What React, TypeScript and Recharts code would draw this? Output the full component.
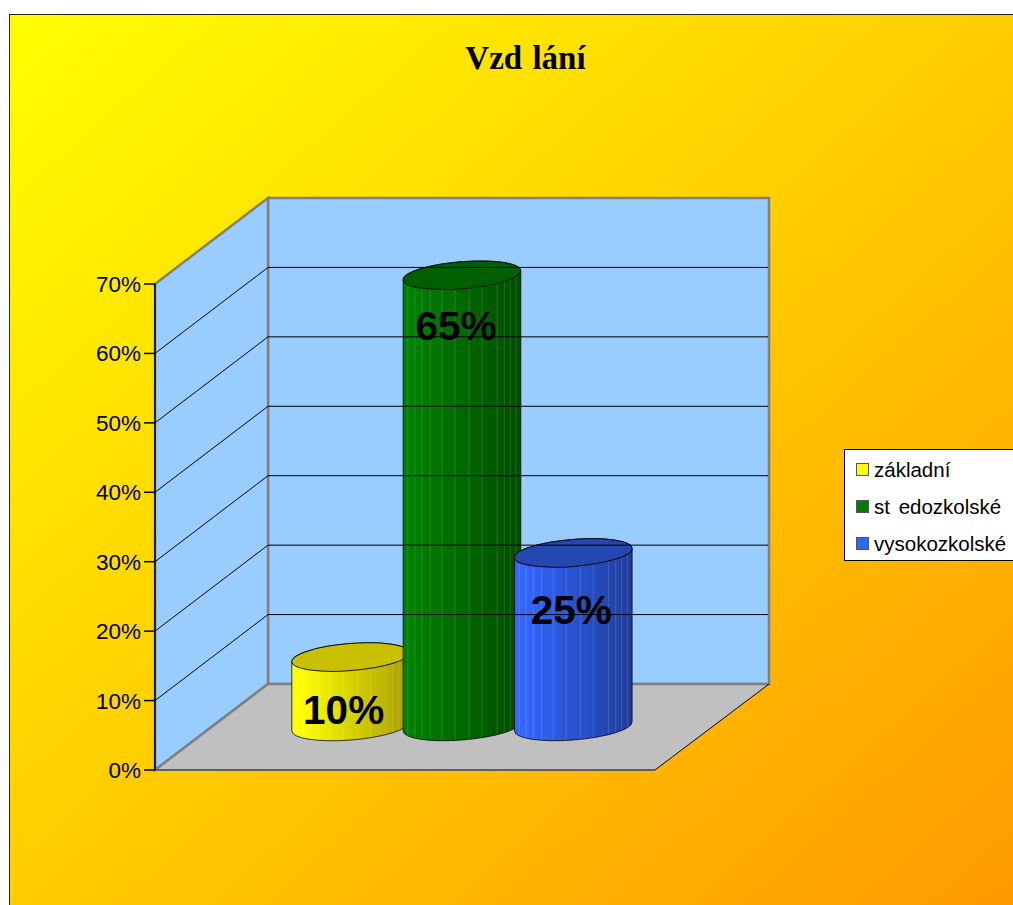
/**
 * Education chart, 3D-looking cylinders drawn on a flat Recharts BarChart.
 */
import { BarChart, Bar, XAxis, YAxis, ReferenceArea, ReferenceLine, Legend, LabelList } from "recharts";

const CATEGORIES = ["základní", "st edozkolské", "vysokozkolské"];
const SHARES = [0.1, 0.65, 0.25];
const Y_TICKS = [0, 0.1, 0.2, 0.3, 0.4, 0.5, 0.6, 0.7];
const GRID_TICKS = [0.1, 0.2, 0.3, 0.4, 0.5, 0.6];

const SWATCHES = ["#ffff00", "#008000", "#3366ff"];
const BODY_LEFT = ["#ffff00", "#008000", "#3366ff"];
const BODY_RIGHT = ["#a89e00", "#004d00", "#1f3d99"];
const CAP = ["#c8c000", "#006000", "#2448b0"];

const data = CATEGORIES.map((name, i) => ({ name, share: SHARES[i] }));

// x axis padding squeezes the bands together, the area shape has to undo it
const PAD_LEFT = 84;
const PAD_RIGHT = 82;
// the box: back wall sits this far from the front axis plane
const WALL_DX = 113;
const WALL_DY = -86;
// cylinders stand half way into the box
const BAR_DX = 56;
const BAR_DY = -43.5;
const RX = 59;
const RY = 13.5;
const TILT = (4.6 * Math.PI) / 180;
const EDGE_X = Math.sqrt(RX * RX * Math.cos(TILT) ** 2 + RY * RY * Math.sin(TILT) ** 2);
const EDGE_Y = ((RX * RX - RY * RY) * Math.sin(TILT) * Math.cos(TILT)) / EDGE_X;
const STRIPES = [0.04, 0.1, 0.16, 0.23, 0.33, 0.44, 0.56, 0.67, 0.8, 0.86, 0.91, 0.96];
const LABEL_NUDGE = [
  { dx: -7, dy: 53 },
  { dx: -6, dy: 51 },
  { dx: -2, dy: 57 },
];

function Cylinder(props: any) {
  const { x, y, width, height, index } = props;
  const cx = x + width / 2 + BAR_DX;
  const top = y + BAR_DY;
  const bottom = y + height + BAR_DY;
  const tilt = -4.6;
  const arc = `A${RX} ${RY} ${tilt}`;
  const body =
    `M${cx - EDGE_X} ${top + EDGE_Y} L${cx - EDGE_X} ${bottom + EDGE_Y} ` +
    `${arc} 0 0 ${cx + EDGE_X} ${bottom - EDGE_Y} L${cx + EDGE_X} ${top - EDGE_Y} ` +
    `${arc} 0 0 ${cx - EDGE_X} ${top + EDGE_Y}Z`;
  return (
    <g>
      <defs>
        <linearGradient id={`body-${index}`} x1="0" y1="0" x2="1" y2="0">
          <stop offset="0.08" stopColor={BODY_LEFT[index]} />
          <stop offset="1" stopColor={BODY_RIGHT[index]} />
        </linearGradient>
        <clipPath id={`clip-${index}`}>
          <path d={body} />
        </clipPath>
      </defs>
      <path d={body} fill={`url(#body-${index})`} />
      <g clipPath={`url(#clip-${index})`}>
        {STRIPES.map((s) => (
          <line
            key={s}
            x1={cx - EDGE_X + s * 2 * EDGE_X}
            x2={cx - EDGE_X + s * 2 * EDGE_X}
            y1={top - 20}
            y2={bottom + 20}
            stroke="#ffffff"
            strokeOpacity={0.14}
          />
        ))}
      </g>
      <path d={body} fill="none" stroke="#000" strokeOpacity={0.75} />
      <ellipse
        cx={cx}
        cy={top}
        rx={RX}
        ry={RY}
        transform={`rotate(${tilt} ${cx} ${top})`}
        fill={CAP[index]}
        stroke="#000"
        strokeOpacity={0.85}
      />
    </g>
  );
}

function Walls(props: any) {
  const { y, height } = props;
  const x = props.x - PAD_LEFT;
  const right = props.x + props.width + PAD_RIGHT;
  const bottom = y + height;
  const points = (list: number[][]) => list.map((p) => p.join(",")).join(" ");
  const edge = { stroke: "#808080", strokeWidth: 2.5 };
  return (
    <g>
      <polygon
        points={points([[x + WALL_DX, y + WALL_DY], [right + WALL_DX + 1, y + WALL_DY], [right + WALL_DX + 1, bottom + WALL_DY], [x + WALL_DX, bottom + WALL_DY]])}
        fill="#99ccff"
        {...edge}
      />
      <polygon
        points={points([[x, y], [x + WALL_DX, y + WALL_DY], [x + WALL_DX, bottom + WALL_DY], [x, bottom]])}
        fill="#99ccff"
        {...edge}
      />
      <polygon
        points={points([[x, bottom], [x + WALL_DX, bottom + WALL_DY], [right + WALL_DX + 1, bottom + WALL_DY], [right, bottom]])}
        fill="#c0c0c0"
      />
      <line x1={x} y1={bottom} x2={x + WALL_DX} y2={bottom + WALL_DY} {...edge} />
      <line x1={x + WALL_DX} y1={bottom + WALL_DY} x2={right + WALL_DX + 1} y2={bottom + WALL_DY} {...edge} />
      <line x1={x} y1={bottom} x2={right} y2={bottom} stroke="#606060" strokeWidth={2} />
      <line x1={right} y1={bottom} x2={right + WALL_DX + 1} y2={bottom + WALL_DY} stroke="#000" />
    </g>
  );
}

function GridLine(props: any) {
  const { x1, x2, y1 } = props;
  const path = `M${x1} ${y1} L${x1 + WALL_DX} ${y1 + WALL_DY} L${x2 + WALL_DX} ${y1 + WALL_DY}`;
  return <path d={path} fill="none" stroke="#000" strokeWidth={1} />;
}

function ShareLabel(props: any) {
  const { x, y, width, value, index } = props;
  const nudge = LABEL_NUDGE[index];
  return (
    <text
      x={x + width / 2 + BAR_DX + nudge.dx}
      y={y + BAR_DY + nudge.dy}
      textAnchor="middle"
      dominantBaseline="central"
      fontFamily="Liberation Sans"
      fontWeight="bold"
      fontSize={40.5}
      fill="#000"
    >
      {Math.round(value * 100)}%
    </text>
  );
}

function LegendBox() {
  return (
    <div
      style={{
        width: 180,
        height: 112,
        boxSizing: "border-box",
        background: "#fff",
        border: "1px solid #000",
        fontFamily: "Liberation Sans",
        fontSize: 20.5,
        wordSpacing: 3,
        color: "#000",
        paddingTop: 1,
      }}
    >
      {CATEGORIES.map((name, i) => (
        <div key={name} style={{ display: "flex", alignItems: "center", height: 37, paddingLeft: 11 }}>
          <span
            style={{
              width: 13,
              height: 13,
              boxSizing: "border-box",
              background: SWATCHES[i],
              border: "1px solid #555",
              marginRight: 5,
            }}
          />
          {name}
        </div>
      ))}
    </div>
  );
}

export default function App() {
  return (
    <div style={{ position: "absolute", left: 0, top: 0, width: 1013, height: 905, overflow: "hidden", background: "#fff" }}>
      <div
        style={{
          position: "absolute",
          left: 9,
          top: 14,
          width: 1020,
          height: 900,
          boxSizing: "border-box",
          border: "1px solid #222",
          background: "linear-gradient(to bottom right, #ffff00, #ffcc00 50%, #ff9900)",
        }}
      />
      <BarChart
        width={1013}
        height={905}
        data={data}
        margin={{ top: 284, right: 358, bottom: 135, left: 85 }}
        style={{ position: "absolute", left: 0, top: 0 }}
      >
        <text x={525.5} y={69} textAnchor="middle" fontFamily="Liberation Serif" fontWeight="bold" fontSize={33} wordSpacing={2} fill="#000">
          Vzd lání
        </text>
        <ReferenceArea y1={0} y2={0.7} shape={Walls} fill="none" stroke="none" ifOverflow="visible" />
        {GRID_TICKS.map((t) => (
          <ReferenceLine key={t} y={t} shape={GridLine} ifOverflow="visible" />
        ))}
        <XAxis dataKey="name" hide padding={{ left: PAD_LEFT, right: PAD_RIGHT }} />
        <YAxis
          width={70}
          domain={[0, 0.7]}
          ticks={Y_TICKS}
          interval={0}
          tickFormatter={(v: number) => `${Math.round(v * 100)}%`}
          axisLine={{ stroke: "#000", strokeWidth: 1.5 }}
          tickLine={{ stroke: "#000", strokeWidth: 1.5 }}
          tickSize={11}
          tickMargin={3}
          tick={{ fill: "#000", fontSize: 22.5, fontFamily: "Liberation Sans" }}
        />
        <Bar dataKey="share" shape={Cylinder} isAnimationActive={false}>
          <LabelList dataKey="share" content={ShareLabel} />
        </Bar>
        <Legend
          layout="vertical"
          align="center"
          verticalAlign="middle"
          content={LegendBox}
          wrapperStyle={{ left: 844, top: 449, width: 180 }}
        />
      </BarChart>
    </div>
  );
}
